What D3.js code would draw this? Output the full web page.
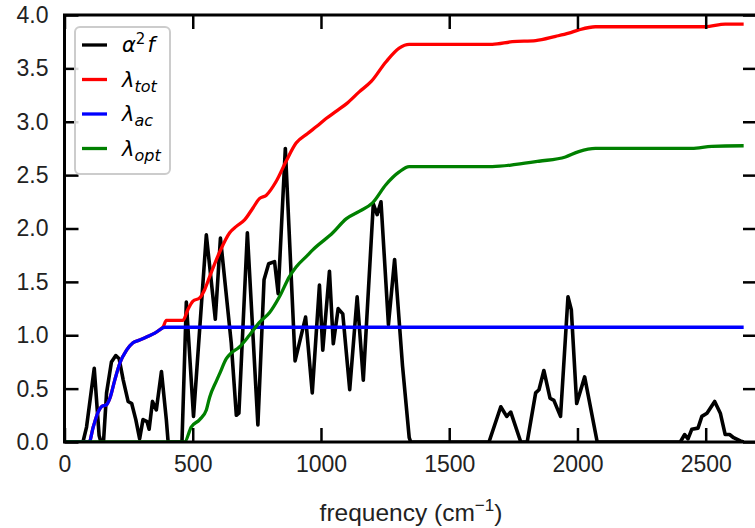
<!DOCTYPE html>
<html>
<head>
<meta charset="utf-8">
<script src="https://cdn.jsdelivr.net/npm/d3@7"></script>
<style>
  body { margin: 0; background: #fff; }
  svg { display: block; }
  .axis text { font-family: "Liberation Sans", Arial, sans-serif; font-size: 23px; fill: #222; }
  .legend text { font-family: "DejaVu Sans", sans-serif; font-style: italic; font-size: 21px; fill: #000; }
</style>
</head>
<body>
<svg id="chart" width="755" height="528"></svg>
<script>
'use strict';

// alpha^2 F (black)
var a2fFreq = [0, 72, 86, 116, 135, 142, 152, 164, 183, 200, 213, 229, 248, 262, 278, 293, 306, 322, 330, 343, 358, 378, 397, 404,
  458, 475, 503, 553, 588, 608, 650, 670, 680, 713, 754, 778, 796, 819, 833, 861, 899, 940, 966, 994, 1007, 1033, 1048, 1067, 1085,
  1112, 1141, 1165, 1204, 1219, 1234, 1263, 1287, 1318, 1344, 1350, 1655, 1701, 1724, 1740, 1779, 1804, 1837, 1850, 1869, 1893,
  1908, 1934, 1963, 1976, 1997, 2028, 2077, 2401, 2418, 2431, 2446, 2470, 2485, 2505, 2535, 2557, 2576, 2593, 2609, 2635, 2648];
var a2fVal = [0, 0, 0.14, 0.69, 0.06, 0, 0, 0.46, 0.75, 0.81, 0.78, 0.58, 0.38, 0.36, 0.21, 0.03, 0.21, 0.19, 0.12, 0.38, 0.30, 0.66, 0.21, 0,
  0, 1.31, 0.24, 1.94, 1.15, 1.91, 0.93, 0.25, 0.27, 1.96, 0.16, 1.52, 1.67, 1.69, 1.39, 2.75, 0.76, 1.17, 0.46, 1.47, 0.86, 1.6, 0.92, 1.25, 1.2,
  0.49, 1.36, 0.58, 2.23, 2.13, 2.25, 1.10, 1.71, 0.71, 0.04, 0, 0, 0.33, 0.24, 0.28, 0, 0, 0.46, 0.49, 0.67, 0.41,
  0.39, 0.24, 1.36, 1.24, 0.36, 0.61, 0, 0, 0.07, 0.03, 0.12, 0.13, 0.24, 0.27, 0.38, 0.27, 0.07, 0.07, 0.04, 0.01, 0];

// lambda total (red)
var totFreq = [0, 96, 112, 131, 144, 164, 177, 196, 216, 242, 267, 293, 326, 352, 371, 385, 397, 462, 481, 501, 527, 545, 566, 605, 644,
  670, 702, 734, 760, 786, 825, 864, 903, 948, 985, 1020, 1060, 1100, 1149, 1195, 1253, 1305, 1344, 1668, 1746, 1837, 1915, 1966,
  2005, 2070, 2498, 2576, 2648];
var totVal = [0, 0, 0.14, 0.28, 0.33, 0.35, 0.41, 0.58, 0.74, 0.86, 0.93, 0.955, 0.99, 1.02, 1.05, 1.08, 1.14, 1.14, 1.24, 1.32, 1.35, 1.42, 1.55, 1.78, 1.96,
  2.02, 2.08, 2.19, 2.28, 2.31, 2.44, 2.63, 2.8, 2.89, 2.96, 3.03, 3.1, 3.17, 3.28, 3.375, 3.56, 3.69, 3.725, 3.725, 3.75, 3.76, 3.80, 3.83,
  3.86, 3.89, 3.89, 3.915, 3.915];

// lambda acoustic (blue)
var acFreq = [0, 96, 112, 131, 144, 164, 177, 196, 216, 242, 267, 293, 326, 352, 371, 391, 2648];
var acVal = [0, 0, 0.14, 0.28, 0.33, 0.35, 0.41, 0.58, 0.74, 0.86, 0.93, 0.955, 0.99, 1.02, 1.05, 1.075, 1.075];

// lambda optical (green)
var optFreq = [0, 468, 494, 527, 553, 566, 592, 605, 631, 644, 682, 721, 760, 799, 838, 877, 903, 948, 968, 1046, 1098, 1149, 1201,
  1253, 1305, 1344, 1668, 1760, 1850, 1953, 2005, 2070, 2446, 2524, 2648];
var optVal = [0, 0, 0.14, 0.21, 0.30, 0.42, 0.57, 0.64, 0.78, 0.82, 0.89, 1.0, 1.12, 1.21, 1.36, 1.55, 1.64, 1.75, 1.80, 1.96, 2.09, 2.16, 2.24,
  2.41, 2.53, 2.58, 2.58, 2.6, 2.63, 2.67, 2.72, 2.75, 2.75, 2.77, 2.775];

var xTicks = [0, 500, 1000, 1500, 2000, 2500];
var yTicks = [0, 0.5, 1.0, 1.5, 2.0, 2.5, 3.0, 3.5, 4.0];

var svg = d3.select('#chart');
var plotL = 64.5, plotR = 757, plotT = 15, plotB = 442;

var x = d3.scaleLinear().domain([0, 2700]).range([plotL, plotR]);
var y = d3.scaleLinear().domain([0, 4]).range([plotB, plotT]);

var series = [
  { f: a2fFreq, v: a2fVal, color: '#000000', w: 3.6, curve: d3.curveLinear },
  { f: totFreq, v: totVal, color: '#ff0000', w: 3.3, curve: d3.curveMonotoneX },
  { f: acFreq, v: acVal, color: '#0000ff', w: 3.3, curve: d3.curveMonotoneX },
  { f: optFreq, v: optVal, color: '#008000', w: 3.3, curve: d3.curveMonotoneX }
];

svg.append('clipPath').attr('id', 'plotclip')
  .append('rect').attr('x', plotL).attr('y', plotT).attr('width', plotR - plotL).attr('height', plotB - plotT);

series.forEach(function(s) {
  var line = d3.line()
    .x(function(d) { return x(d[0]); })
    .y(function(d) { return y(d[1]); })
    .curve(s.curve);
  svg.append('path')
    .datum(d3.zip(s.f, s.v))
    .attr('clip-path', 'url(#plotclip)')
    .attr('fill', 'none')
    .attr('stroke', s.color)
    .attr('stroke-width', s.w)
    .attr('stroke-linejoin', 'round')
    .attr('d', line);
});

// axes, ticks pointing inward on all four sides
var tick = 14;
function styleAxis(g) {
  g.select('.domain').remove();
  g.selectAll('.tick line').attr('stroke', '#000').attr('stroke-width', 2.5);
}

svg.append('g').attr('class', 'axis')
  .attr('transform', 'translate(0,' + plotB + ')')
  .call(d3.axisBottom(x).tickValues(xTicks).tickFormat(d3.format('d')).tickSizeInner(-tick).tickSizeOuter(0).tickPadding(9))
  .call(styleAxis)
  .selectAll('text').attr('dy', '0.9em');

svg.append('g').attr('class', 'axis')
  .attr('transform', 'translate(0,' + plotT + ')')
  .call(d3.axisTop(x).tickValues(xTicks).tickFormat('').tickSizeInner(-tick).tickSizeOuter(0))
  .call(styleAxis);

svg.append('g').attr('class', 'axis')
  .attr('transform', 'translate(' + plotL + ',0)')
  .call(d3.axisLeft(y).tickValues(yTicks).tickFormat(d3.format('.1f')).tickSizeInner(-tick).tickSizeOuter(0).tickPadding(16))
  .call(styleAxis);

svg.append('g').attr('class', 'axis')
  .attr('transform', 'translate(' + plotR + ',0)')
  .call(d3.axisRight(y).tickValues(yTicks).tickFormat('').tickSizeInner(-tick).tickSizeOuter(0))
  .call(styleAxis);

// frame
svg.append('rect')
  .attr('x', plotL).attr('y', plotT)
  .attr('width', plotR - plotL).attr('height', plotB - plotT)
  .attr('fill', 'none').attr('stroke', '#000').attr('stroke-width', 3);

// x label
var xl = svg.append('text')
  .attr('x', 411).attr('y', 521)
  .attr('text-anchor', 'middle')
  .style('font-family', '"Liberation Sans", Arial, sans-serif')
  .style('font-size', '24.5px')
  .attr('fill', '#222');
xl.append('tspan').text('frequency (cm');
xl.append('tspan').attr('dy', -10).style('font-size', '17px').text('\u22121');
xl.append('tspan').attr('dy', 10).text(')');

// legend
var lg = svg.append('g').attr('class', 'legend');
lg.append('rect')
  .attr('x', 75).attr('y', 27).attr('width', 95).attr('height', 147).attr('rx', 5)
  .attr('fill', '#fff').attr('fill-opacity', 0.85)
  .attr('stroke', '#cccccc').attr('stroke-width', 2);

var entries = [
  { color: '#000000', main: '\u03b1', sup: '2', tail: 'f' },
  { color: '#ff0000', main: '\u03bb', sub: 'tot' },
  { color: '#0000ff', main: '\u03bb', sub: 'ac' },
  { color: '#008000', main: '\u03bb', sub: 'opt' }
];

entries.forEach(function(e, i) {
  var ey = 45 + i * 34.5;
  lg.append('line')
    .attr('x1', 82).attr('x2', 107).attr('y1', ey).attr('y2', ey)
    .attr('stroke', e.color).attr('stroke-width', 3.3);
  var t = lg.append('text').attr('x', 122).attr('y', ey + 7);
  t.append('tspan').text(e.main);
  if (e.sup) {
    t.append('tspan').attr('dy', -8).style('font-size', '15px').style('font-style', 'normal').text(e.sup);
    t.append('tspan').attr('dy', 8).attr('dx', 2).text(e.tail);
  } else {
    t.append('tspan').attr('dy', 5).style('font-size', '16px').text(e.sub);
  }
});
</script>
</body>
</html>
